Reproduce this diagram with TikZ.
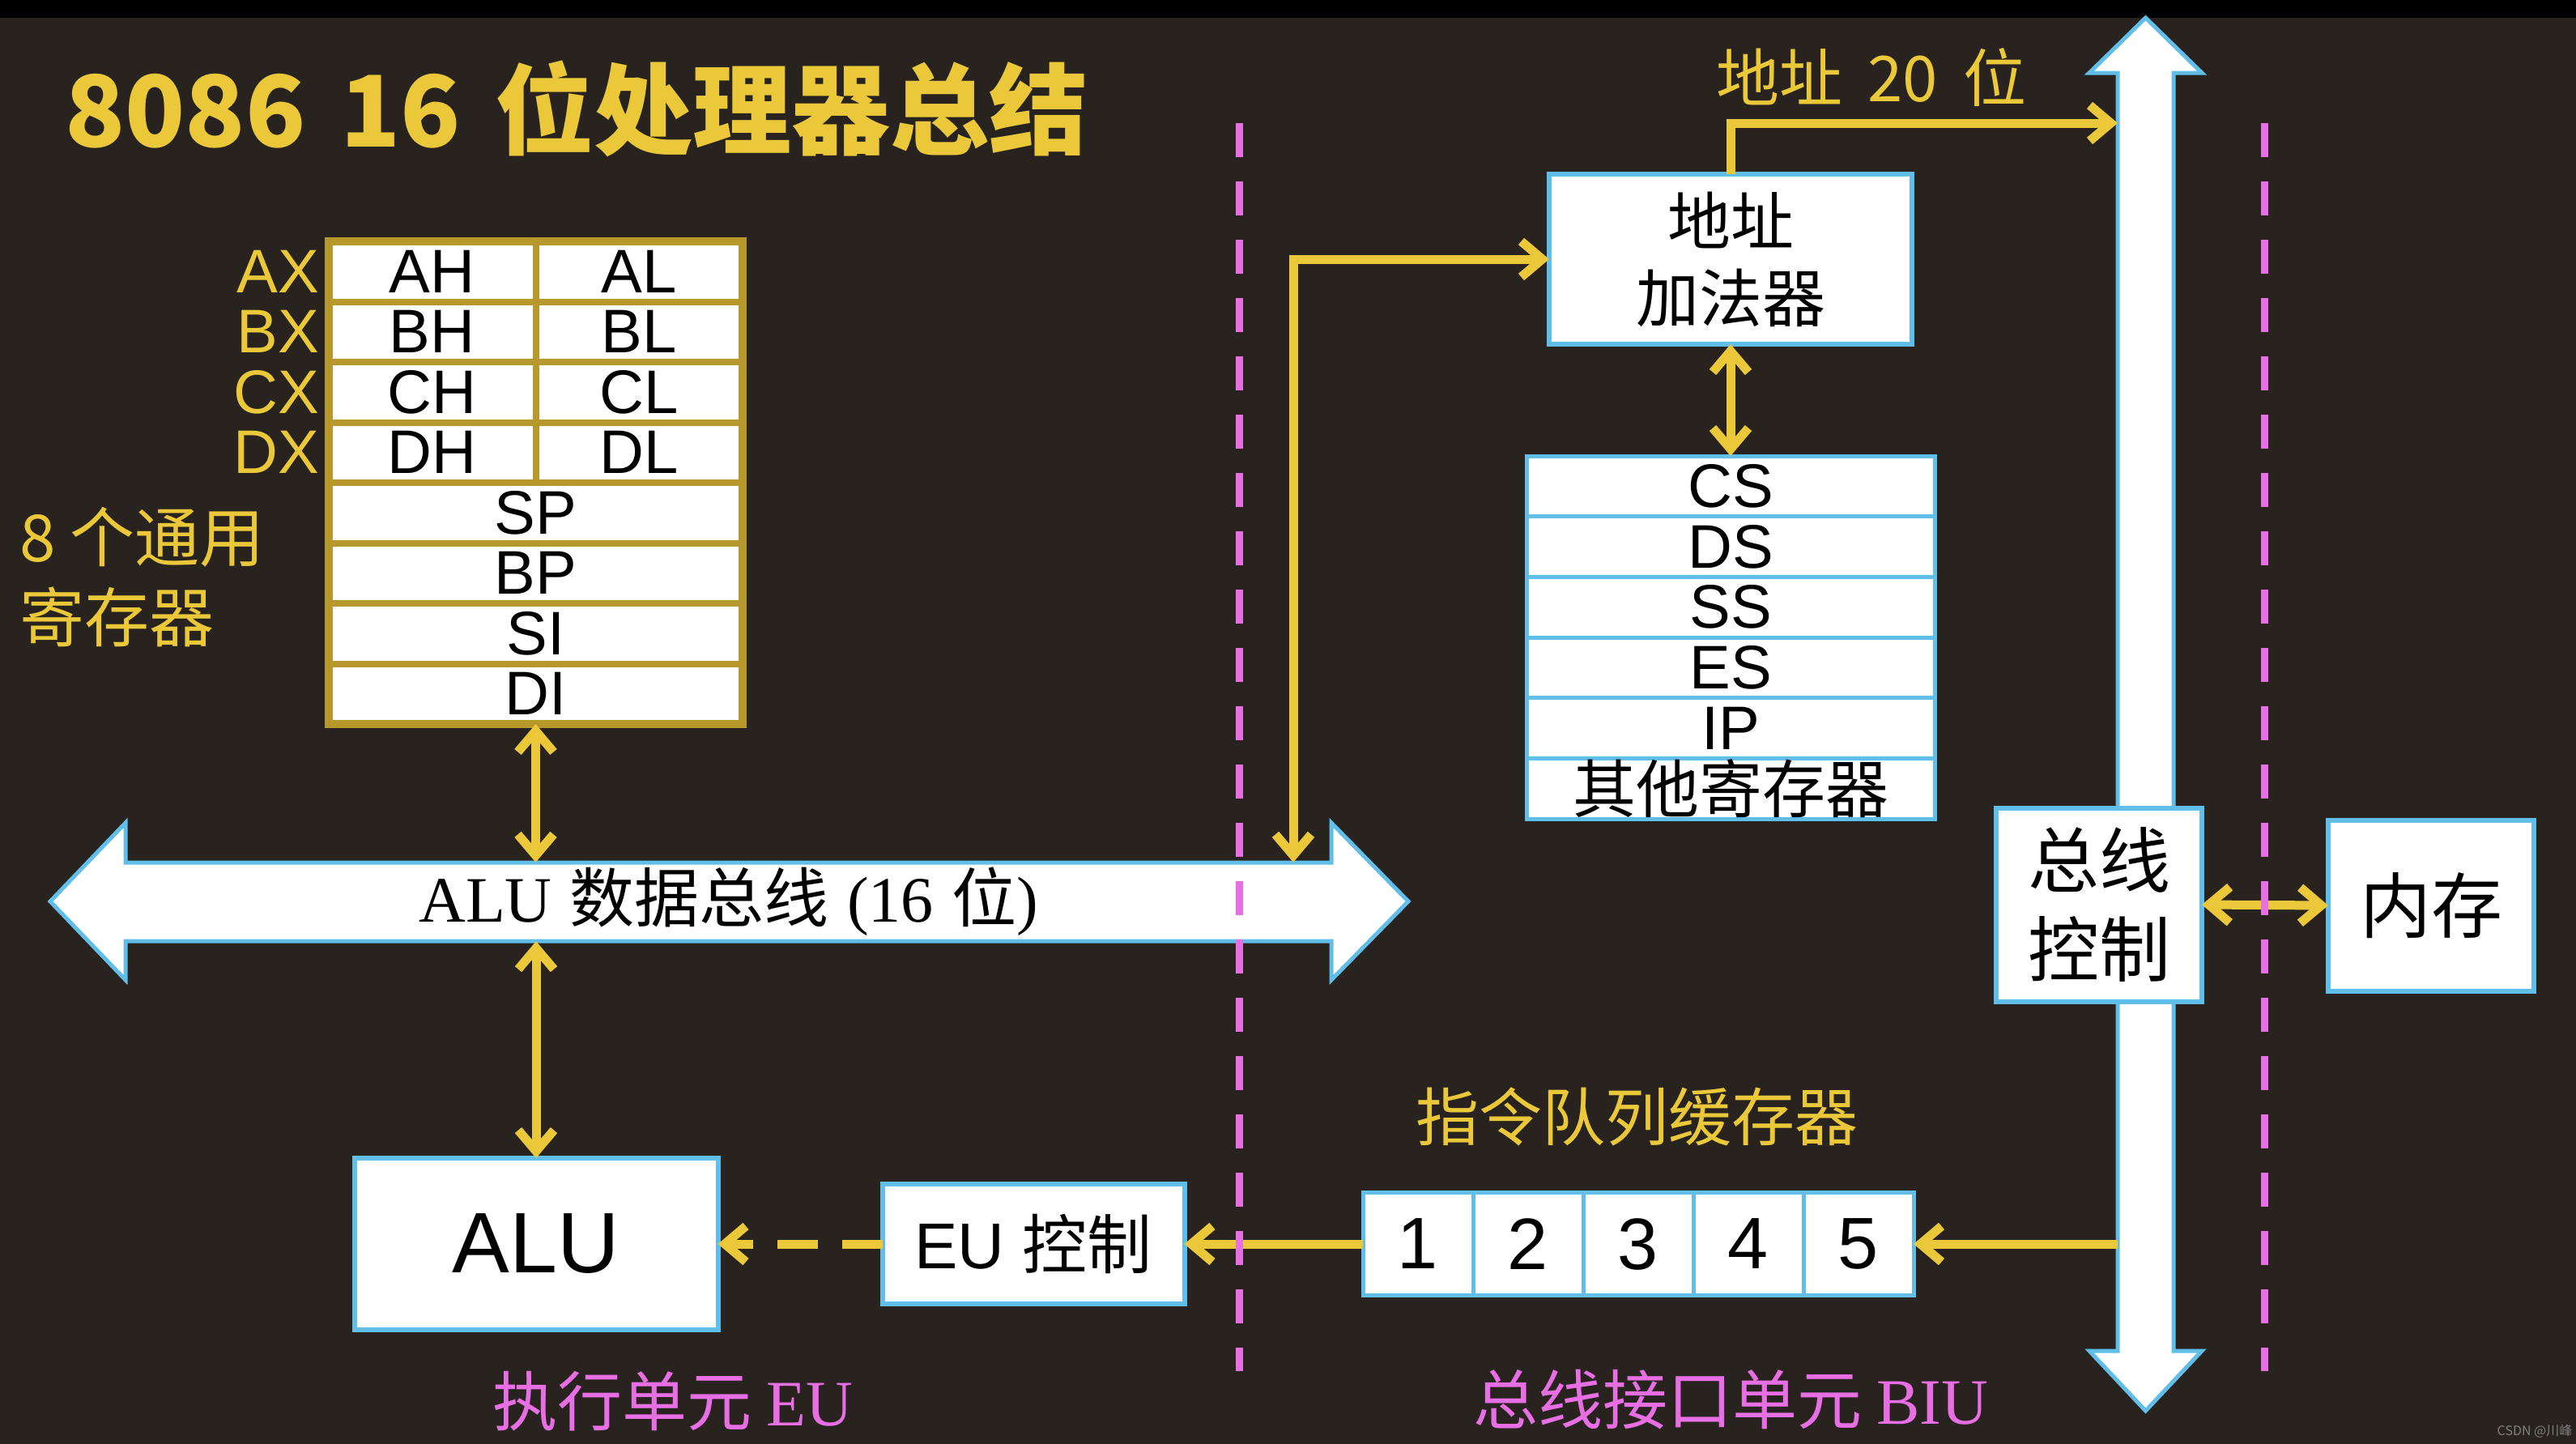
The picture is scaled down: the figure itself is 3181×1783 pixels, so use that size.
\documentclass[tikz,border=0pt]{standalone}
\usepackage{fontspec}
\setmainfont{Liberation Sans}
\newfontfamily\cjk{Noto Sans CJK SC}
\newfontfamily\latser{Liberation Serif}
\usepackage{tikz}
\usetikzlibrary{arrows.meta,positioning,calc}

\definecolor{bgc}{RGB}{40,35,31}
\definecolor{yel}{RGB}{234,200,58}
\definecolor{regline}{RGB}{182,152,44}
\definecolor{cyanline}{RGB}{96,190,232}
\definecolor{pinkc}{RGB}{232,110,228}
\newcommand{\sz}[2]{\fontsize{#1}{#2}\selectfont}

\begin{document}
\begin{tikzpicture}[x=1pt, y=-1pt,
  cell/.style={draw=regline, line width=8pt, fill=white, inner sep=0pt, outer sep=0pt, minimum height=74.5pt, font=\sz{76}{80}},
  half/.style={cell, minimum width=255.5pt},
  whole/.style={cell, minimum width=511pt},
  regname/.style={anchor=east, text=yel, inner sep=0pt, font=\sz{76}{80}},
  box/.style={draw=cyanline, line width=6pt, fill=white, inner sep=0pt, outer sep=0pt, align=center},
  seg/.style={box, line width=5pt, minimum width=504pt, minimum height=74.67pt, font=\sz{76}{80}},
  qcell/.style={box, line width=5pt, minimum width=136pt, minimum height=127pt, font=\sz{90}{90}},
  bigarrow/.style={fill=white, draw=cyanline, line width=5pt, line join=miter},
  yarrow/.style={draw=yel, line width=11pt, -{Straight Barb[length=26pt,width=44pt]}},
  ydarrow/.style={yarrow, {Straight Barb[length=26pt,width=44pt]}-{Straight Barb[length=26pt,width=44pt]}},
  divider/.style={draw=pinkc, line width=9pt, dash pattern=on 42pt off 30pt},
  tag/.style={text=yel, inner sep=0pt, font=\cjk\sz{78}{90}},
  unitlbl/.style={text=pinkc, inner sep=0pt, font=\cjk\sz{80}{90}}]

  \fill[bgc] (0,0) rectangle (3181,1783);
  \fill[black] (0,0) rectangle (3181,22);
  \useasboundingbox (0,0) rectangle (3181,1783);

  \node[anchor=west, text=yel, inner sep=0pt, font=\cjk\bfseries\sz{122}{130}] (title) at (80,134)
    {8086\hspace{.35em}16\hspace{.35em}位处理器总结};

  % general registers
  \foreach \rg [count=\i from 0] in {A,B,C,D} {
    \node[half] (\rg H) at (533.75,{335.25+74.5*\i}) {\rg H};
    \node[half] (\rg L) at (789.25,{335.25+74.5*\i}) {\rg L};
    \node[regname] (\rg X) at (394,{335.25+74.5*\i}) {\rg X};
  }
  \foreach \rg [count=\i from 4] in {SP,BP,SI,DI}
    \node[whole] (\rg) at (661.5,{335.25+74.5*\i}) {\rg};
  \draw[regline, line width=10pt] (AH.north west) rectangle (DI.south east);
  \node[anchor=west, align=left, text=yel, inner sep=0pt, font=\cjk\sz{80}{99}] (gpr) at (24,713) {8 个通用\\寄存器};

  % ALU data bus
  \draw[bigarrow] (62,1113) -- (155,1016) -- (155,1065) -- (1644,1065) -- (1644,1016) -- (1739,1113)
    -- (1644,1210) -- (1644,1162) -- (155,1162) -- (155,1210) -- cycle;
  \node[minimum width=1489pt, minimum height=97pt, inner sep=0pt, font=\sz{80}{80}] (bus) at (899.5,1113.5)
    {{\latser ALU} {\cjk 数据总线} {\latser (16} {\cjk 位}{\latser )}};

  % address bus
  \draw[bigarrow] (2649.5,22) -- (2719,90) -- (2684,90) -- (2684,1668) -- (2719,1668) -- (2649.5,1742)
    -- (2580,1668) -- (2615,1668) -- (2615,90) -- (2580,90) -- cycle;
  \node[minimum width=69pt, minimum height=1578pt, inner sep=0pt] (abus) at (2649.5,879) {};

  \node[box, minimum width=448pt, minimum height=210pt, font=\cjk\sz{78}{95}] (adder) at (2137,320) {地址\\加法器};
  \foreach \s [count=\i from 0] in {CS,DS,SS,ES,IP}
    \node[seg] (\s) at (2137,{600.33+74.67*\i}) {\s};
  \node[seg, font=\cjk\sz{78}{80}] (oth) at (2137,{600.33+74.67*5}) {其他寄存器};

  \node[box, minimum width=254pt, minimum height=239pt, font=\cjk\sz{88}{110}] (busctl) at (2592,1117) {总线\\控制};
  \node[box, minimum width=254pt, minimum height=211pt, font=\cjk\sz{88}{100}] (mem) at (3002,1118) {内存};

  \node[box, minimum width=449pt, minimum height=212pt, font=\sz{106}{110}] (alu) at (662,1536) {ALU};
  \node[box, minimum width=373pt, minimum height=148pt, font=\sz{80}{90}] (euc) at (1276,1536) {EU {\cjk 控制}};

  % instruction queue
  \node[qcell] (q1) at (1751,1536) {1};
  \foreach \i [remember=\i as \j (initially 1)] in {2,...,5}
    \node[qcell, right=0pt of q\j] (q\i) {\i};

  \node[tag] (addr) at (2311,96) {地址\hspace{.4em}20\hspace{.4em}位};
  \node[tag] (qname) at (2021,1379) {指令队列缓存器};
  \node[unitlbl] (eu) at (831,1730) {执行单元 {\latser EU}};
  \node[unitlbl] (biu) at (2137,1728) {总线接口单元 {\latser BIU}};
  \node[text=gray, inner sep=0pt, font=\cjk\sz{16}{16}] (mark) at (3130,1767) {CSDN @川峰};

  % connectors
  \coordinate (tap) at (1597,320);
  \coordinate (a20) at (2615,152);
  \draw[ydarrow] (DI.south) -- (DI.south |- bus.north);
  \draw[ydarrow] (bus.south -| alu.north) -- (alu.north);
  \draw[ydarrow] (bus.north -| tap) |- (adder.west);
  \draw[yarrow] (adder.north) |- (a20);
  \draw[ydarrow] (adder.south) -- (CS.north);
  \draw[ydarrow] (busctl.east) -- (mem.west);
  \draw[yarrow] (abus.west |- q5.east) -- (q5.east);
  \draw[yarrow] (q1.west) -- (euc.east);
  \draw[yarrow, dash pattern=on 50pt off 30pt] (euc.west) -- (alu.east);

  % EU / BIU border
  \draw[divider] (1530,152) -- (1530,1693);
  \draw[divider] (2796,152) -- (2796,1693);
\end{tikzpicture}
\end{document}
